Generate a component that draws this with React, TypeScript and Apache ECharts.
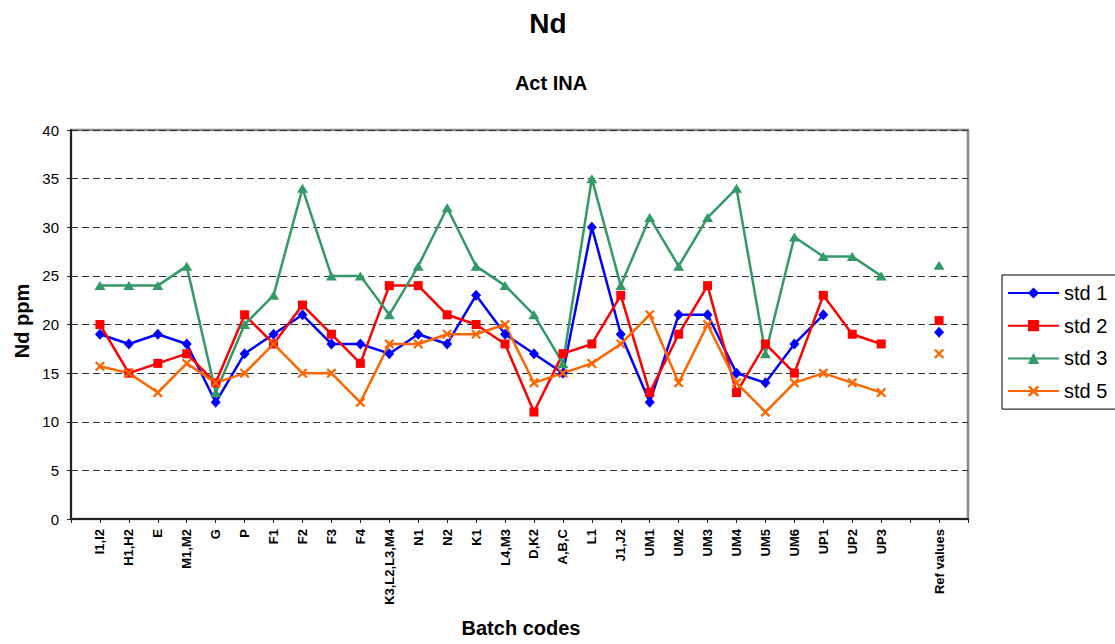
import React, { useEffect, useRef } from "react";
import * as echarts from "echarts";

const batchCodes = [
  "I1,I2", "H1,H2", "E", "M1,M2", "G", "P", "F1", "F2", "F3", "F4",
  "K3,L2,L3,M4", "N1", "N2", "K1", "L4,M3", "D,K2", "A,B,C", "L1", "J1,J2",
  "UM1", "UM2", "UM3", "UM4", "UM5", "UM6", "UP1", "UP2", "UP3",
];
const refLabel = "Ref values";

const std1 = [19, 18, 19, 18, 12, 17, 19, 21, 18, 18, 17, 19, 18, 23, 19, 17, 15, 30, 19, 12, 21, 21, 15, 14, 18, 21, null, null];
const std2 = [20, 15, 16, 17, 14, 21, 18, 22, 19, 16, 24, 24, 21, 20, 18, 11, 17, 18, 23, 13, 19, 24, 13, 18, 15, 23, 19, 18];
const std3 = [24, 24, 24, 26, 13, 20, 23, 34, 25, 25, 21, 26, 32, 26, 24, 21, 16, 35, 24, 31, 26, 31, 34, 17, 29, 27, 27, 25];
const std5 = [15.7, 15, 13, 16, 14, 15, 18, 15, 15, 12, 18, 18, 19, 19, 20, 14, 15, 16, 18, 21, 14, 20, 14, 11, 14, 15, 14, 13];

const refStd1 = 19.2;
const refStd2 = 20.4;
const refStd3 = 26.1;
const refStd5 = 17;

const yTicks = { min: 0, max: 40, interval: 5 };

const FONT = "'Liberation Sans', Arial, sans-serif";

// category axis: blank, batches, blank, ref, blank
const categories = [" ", ...batchCodes, "  ", refLabel, "   "];
const build = (vals: (number | null)[], ref: number) => [null, ...vals, null, ref, null];

const crossPath =
  "path://M0,1.6 L1.6,0 L5,3.4 L8.4,0 L10,1.6 L6.6,5 L10,8.4 L8.4,10 L5,6.6 L1.6,10 L0,8.4 L3.4,5 Z";

export default function App() {
  const ref = useRef<HTMLDivElement>(null);
  useEffect(() => {
    if (!ref.current) return;
    const chart = echarts.init(ref.current, undefined, { renderer: "svg" });
    const mk = (name: string, data: any[], color: string, symbol: string, size: any) => ({
      name,
      type: "line",
      data,
      symbol,
      symbolSize: size,
      showSymbol: true,
      connectNulls: false,
      lineStyle: { color, width: 2.5 },
      itemStyle: { color },
      emphasis: { disabled: true },
    });
    chart.setOption({
      animation: false,
      textStyle: { fontFamily: FONT },
      grid: {
        left: 71,
        top: 130,
        right: 147,
        bottom: 125,
        show: true,
        borderColor: "#888",
        borderWidth: 2.5,
      },
      graphic: [
        {
          type: "text",
          x: 548,
          y: 23,
          style: {
            text: "Nd",
            font: `bold 28px ${FONT}`,
            fill: "#000",
            textAlign: "center",
            textVerticalAlign: "middle",
          },
        },
        {
          type: "text",
          x: 551,
          y: 83,
          style: {
            text: "Act INA",
            font: `bold 20px ${FONT}`,
            fill: "#000",
            textAlign: "center",
            textVerticalAlign: "middle",
          },
        },
        {
          type: "text",
          x: 521,
          y: 628,
          style: {
            text: "Batch codes",
            font: `bold 20px ${FONT}`,
            fill: "#000",
            textAlign: "center",
            textVerticalAlign: "middle",
          },
        },
        {
          type: "text",
          x: 22,
          y: 321,
          rotation: Math.PI / 2,
          style: {
            text: "Nd ppm",
            font: `bold 20px ${FONT}`,
            fill: "#000",
            textAlign: "center",
            textVerticalAlign: "middle",
          },
        },
      ],
      legend: {
        orient: "vertical",
        left: 1002,
        top: 275,
        padding: [8, 14, 8, 5],
        itemWidth: 51,
        itemHeight: 14,
        itemGap: 12.7,
        borderColor: "#000",
        borderWidth: 1,
        backgroundColor: "#fff",
        textStyle: { fontSize: 20, lineHeight: 20, color: "#000", fontFamily: FONT },
        data: ["std 1", "std 2", "std 3", "std 5"],
      },
      xAxis: {
        type: "category",
        data: categories,
        boundaryGap: false,
        axisLine: { show: true, lineStyle: { color: "#222", width: 2 } },
        axisTick: { show: true, interval: 0, length: 4, lineStyle: { color: "#222", width: 1 } },
        axisLabel: {
          interval: 0,
          rotate: 90,
          margin: 10,
          fontSize: 13,
          fontWeight: "bold",
          color: "#000",
          fontFamily: FONT,
        },
        splitLine: { show: false },
      },
      yAxis: {
        type: "value",
        min: yTicks.min,
        max: yTicks.max,
        interval: yTicks.interval,
        axisLine: { show: true, lineStyle: { color: "#222", width: 2 } },
        axisTick: { show: true, length: 4, lineStyle: { color: "#222", width: 1 } },
        axisLabel: { margin: 12, fontSize: 15, color: "#000", fontFamily: FONT },
        splitLine: {
          show: true,
          lineStyle: { color: "#333", width: 1, type: [7, 4] },
        },
      },
      series: [
        mk("std 1", build(std1, refStd1), "#0000ff", "diamond", [10, 11]),
        mk("std 2", build(std2, refStd2), "#ff0000", "rect", 9),
        mk("std 3", build(std3, refStd3), "#339966", "triangle", [11, 9]),
        mk("std 5", build(std5, refStd5), "#ff6600", crossPath, 10),
      ],
    });
    return () => chart.dispose();
  }, []);
  return (
    <div
      ref={ref}
      style={{ position: "fixed", left: 0, top: 0, width: 1115, height: 644, background: "#fff" }}
    />
  );
}
